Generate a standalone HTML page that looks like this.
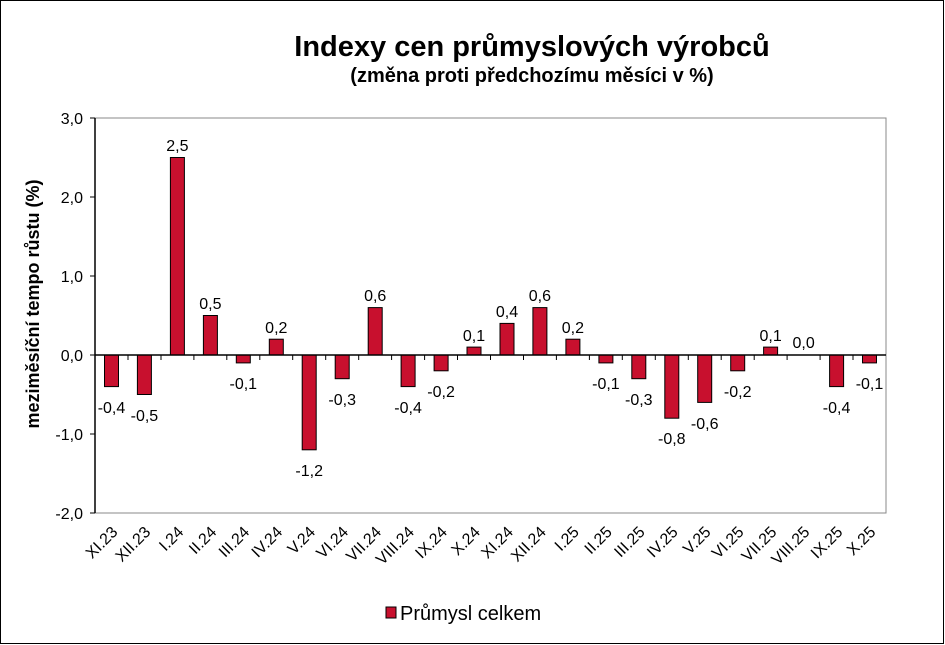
<!DOCTYPE html>
<html><head><meta charset="utf-8"><style>body{margin:0;background:#fff}svg{display:block}</style></head><body>
<svg width="945" height="645" xmlns="http://www.w3.org/2000/svg" font-family="Liberation Sans, Arial, sans-serif">
<rect x="0.5" y="0.5" width="943" height="643" fill="#fff" stroke="#000"/>
<text x="532" y="56" text-anchor="middle" font-size="29" font-weight="bold">Indexy cen průmyslových výrobců</text>
<text x="532" y="82" text-anchor="middle" font-size="20" font-weight="bold">(změna proti předchozímu měsíci v %)</text>
<rect x="95" y="118" width="791" height="395" fill="none" stroke="#888"/>
<text transform="translate(39,304) rotate(-90)" text-anchor="middle" font-size="18" font-weight="bold">meziměsíční tempo růstu (%)</text>
<g fill="#c8102e" stroke="#000" stroke-width="1">
<rect x="104.5" y="355" width="14" height="31.6"/>
<rect x="137.4" y="355" width="14" height="39.5"/>
<rect x="170.4" y="157.5" width="14" height="197.5"/>
<rect x="203.4" y="315.5" width="14" height="39.5"/>
<rect x="236.3" y="355" width="14" height="7.9"/>
<rect x="269.3" y="339.2" width="14" height="15.8"/>
<rect x="302.2" y="355" width="14" height="94.8"/>
<rect x="335.2" y="355" width="14" height="23.7"/>
<rect x="368.2" y="307.6" width="14" height="47.4"/>
<rect x="401.1" y="355" width="14" height="31.6"/>
<rect x="434.1" y="355" width="14" height="15.8"/>
<rect x="467.0" y="347.1" width="14" height="7.9"/>
<rect x="500.0" y="323.4" width="14" height="31.6"/>
<rect x="532.9" y="307.6" width="14" height="47.4"/>
<rect x="565.9" y="339.2" width="14" height="15.8"/>
<rect x="598.9" y="355" width="14" height="7.9"/>
<rect x="631.8" y="355" width="14" height="23.7"/>
<rect x="664.8" y="355" width="14" height="63.2"/>
<rect x="697.7" y="355" width="14" height="47.4"/>
<rect x="730.7" y="355" width="14" height="15.8"/>
<rect x="763.6" y="347.1" width="14" height="7.9"/>
<rect x="829.6" y="355" width="14" height="31.6"/>
<rect x="862.5" y="355" width="14" height="7.9"/>
</g>
<g font-size="16" text-anchor="middle">
<text x="111.5" y="413">-0,4</text>
<text x="144.4" y="421">-0,5</text>
<text x="177.4" y="151">2,5</text>
<text x="210.4" y="309">0,5</text>
<text x="243.3" y="389">-0,1</text>
<text x="276.3" y="333">0,2</text>
<text x="309.2" y="476">-1,2</text>
<text x="342.2" y="405">-0,3</text>
<text x="375.2" y="301">0,6</text>
<text x="408.1" y="413">-0,4</text>
<text x="441.1" y="397">-0,2</text>
<text x="474.0" y="341">0,1</text>
<text x="507.0" y="317">0,4</text>
<text x="539.9" y="301">0,6</text>
<text x="572.9" y="333">0,2</text>
<text x="605.9" y="389">-0,1</text>
<text x="638.8" y="405">-0,3</text>
<text x="671.8" y="444">-0,8</text>
<text x="704.7" y="429">-0,6</text>
<text x="737.7" y="397">-0,2</text>
<text x="770.6" y="341">0,1</text>
<text x="803.6" y="348">0,0</text>
<text x="836.6" y="413">-0,4</text>
<text x="869.5" y="389">-0,1</text>
</g>
<g font-size="16" text-anchor="end">
<text transform="translate(118.5,533) rotate(-45)">XI.23</text>
<text transform="translate(151.4,533) rotate(-45)">XII.23</text>
<text transform="translate(184.4,533) rotate(-45)">I.24</text>
<text transform="translate(217.4,533) rotate(-45)">II.24</text>
<text transform="translate(250.3,533) rotate(-45)">III.24</text>
<text transform="translate(283.3,533) rotate(-45)">IV.24</text>
<text transform="translate(316.2,533) rotate(-45)">V.24</text>
<text transform="translate(349.2,533) rotate(-45)">VI.24</text>
<text transform="translate(382.2,533) rotate(-45)">VII.24</text>
<text transform="translate(415.1,533) rotate(-45)">VIII.24</text>
<text transform="translate(448.1,533) rotate(-45)">IX.24</text>
<text transform="translate(481.0,533) rotate(-45)">X.24</text>
<text transform="translate(514.0,533) rotate(-45)">XI.24</text>
<text transform="translate(546.9,533) rotate(-45)">XII.24</text>
<text transform="translate(579.9,533) rotate(-45)">I.25</text>
<text transform="translate(612.9,533) rotate(-45)">II.25</text>
<text transform="translate(645.8,533) rotate(-45)">III.25</text>
<text transform="translate(678.8,533) rotate(-45)">IV.25</text>
<text transform="translate(711.7,533) rotate(-45)">V.25</text>
<text transform="translate(744.7,533) rotate(-45)">VI.25</text>
<text transform="translate(777.6,533) rotate(-45)">VII.25</text>
<text transform="translate(810.6,533) rotate(-45)">VIII.25</text>
<text transform="translate(843.6,533) rotate(-45)">IX.25</text>
<text transform="translate(876.5,533) rotate(-45)">X.25</text>
</g>
<g stroke="#000" stroke-width="1">
<path d="M128 355v5M161 355v5M193.9 355v5M226.8 355v5M259.8 355v5M292.7 355v5M325.7 355v5M358.7 355v5M391.6 355v5M424.6 355v5M457.5 355v5M490.5 355v5M523.5 355v5M556.4 355v5M589.4 355v5M622.3 355v5M655.3 355v5M688.3 355v5M721.2 355v5M754.2 355v5M787.1 355v5M820.1 355v5M853 355v5"/>
<path d="M90 118h5M90 197h5M90 276h5M90 355h5M90 434h5M90 513h5"/>
<line x1="95" y1="355" x2="886" y2="355" stroke-width="1.5"/>
<line x1="95" y1="118" x2="95" y2="513" stroke-width="1.5"/>
</g>
<g font-size="16" text-anchor="end">
<text x="83" y="124">3,0</text>
<text x="83" y="203">2,0</text>
<text x="83" y="282">1,0</text>
<text x="83" y="361">0,0</text>
<text x="83" y="440">-1,0</text>
<text x="83" y="519">-2,0</text>
</g>
<rect x="386" y="607" width="10" height="11" fill="#c8102e" stroke="#000"/>
<text x="400" y="620" font-size="20">Průmysl celkem</text>
</svg>
</body></html>
